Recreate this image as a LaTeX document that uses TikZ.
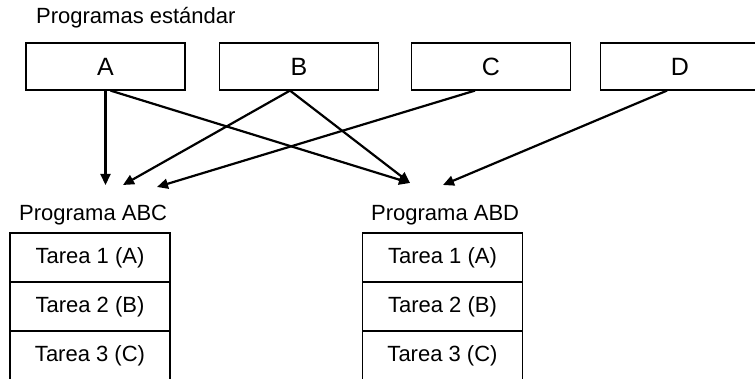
\documentclass[tikz,border=0pt]{standalone}
\usepackage{fontspec}
\setmainfont{Liberation Sans}
\usetikzlibrary{positioning,calc,arrows.meta}

\begin{document}
\begin{tikzpicture}[x=1pt,y=1pt,%
    prog/.style={draw,line width=1.2pt,minimum width=159pt,%
    minimum height=47pt,inner sep=0pt,font=\fontsize{25}{30}\selectfont},%
    tarea/.style={draw,line width=1.2pt,outer sep=0pt,minimum width=160pt,%
    minimum height=49pt,inner sep=0pt,font=\fontsize{22}{26}\selectfont},%
    etiq/.style={inner sep=0pt,anchor=west,font=\fontsize{22}{26}\selectfont},%
    flecha/.style={line width=2.2pt,-{Triangle[length=11pt,width=10pt]}}]
  \useasboundingbox (0,0) rectangle (755,379);
  % programas estandar
  \node[etiq] (titulo) at (36,361) {Programas estándar};
  \node[prog] (A) at (105.5,312.5) {A};
  \node[prog] (B) at (299,312.5) {B};
  \node[prog] (C) at (491,312.5) {C};
  \node[prog] (D) at (680,312.5) {D};
  % puntos de llegada
  \coordinate (tA) at (105.5,194);
  \coordinate (tB) at (123,194);
  \coordinate (tC) at (157,192);
  \coordinate (tABD) at (410,196);
  \coordinate (tD) at (443,194);
  \draw[flecha] (A.south) -- (tA);
  \draw[flecha] ($(A.south)+(5,0)$) -- (tABD);
  \draw[flecha] ($(B.south)+(-9,0)$) -- (tB);
  \draw[flecha] ($(B.south)+(-9,0)$) -- (tABD);
  \draw[flecha] ($(C.south)+(-16,0)$) -- (tC);
  \draw[flecha] ($(D.south)+(-13,0)$) -- (tD);
  % programa ABC
  \node[etiq] (labc) at (19,164) {Programa ABC};
  \node[tarea] (abc1) at (90,121.5) {Tarea 1 (A)};
  \node[tarea,below=0pt of abc1] (abc2) {Tarea 2 (B)};
  \node[tarea,below=0pt of abc2] (abc3) {Tarea 3 (C)};
  % programa ABD
  \node[etiq] (labd) at (371,164) {Programa ABD};
  \node[tarea] (abd1) at (442.5,121.5) {Tarea 1 (A)};
  \node[tarea,below=0pt of abd1] (abd2) {Tarea 2 (B)};
  \node[tarea,below=0pt of abd2] (abd3) {Tarea 3 (C)};
\end{tikzpicture}
\end{document}
